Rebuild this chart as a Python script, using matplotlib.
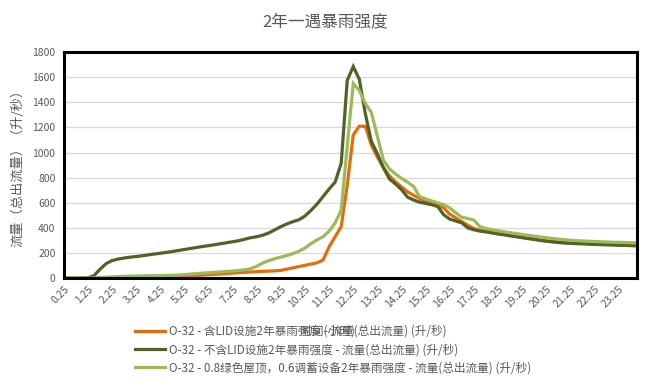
import numpy as np
import matplotlib
matplotlib.use("Agg")
import matplotlib.pyplot as plt

plt.rcParams['font.family'] = ['Noto Sans CJK SC', 'DejaVu Sans']

# time in hours, one point every 15 min
hours = np.arange(0.25, 24.01, 0.25)

# O-32 with LID (orange)
with_lid = [0, 0, 0, 0, 0, 0, 1, 2, 3, 4, 5, 6,
            7, 8, 9, 10, 11, 12, 13, 14, 16, 18, 21, 24,
            27, 30, 33, 36, 40, 43, 46, 49, 52, 54, 56, 58,
            62, 72, 82, 92, 102, 112, 122, 145, 250, 330, 410, 740,
            1140, 1210, 1210, 1060, 965, 880, 815, 767, 727, 688, 660, 634,
            610, 595, 580, 560, 510, 480, 450, 422, 395, 380, 372, 364,
            356, 348, 340, 333, 325, 318, 311, 303, 297, 292, 287, 283,
            280, 278, 276, 274, 272, 270, 268, 267, 265, 264, 262, 260]

# O-32 without LID (dark green)
no_lid = [0, 0, 0, 0, 2, 20, 70, 115, 140, 152, 160, 167,
          172, 178, 185, 192, 198, 205, 212, 220, 228, 236, 244, 252,
          259, 266, 274, 282, 290, 298, 310, 322, 330, 342, 360, 385,
          410, 432, 450, 465, 495, 540, 590, 650, 710, 765, 915, 1575,
          1685, 1585, 1310, 1090, 990, 880, 790, 750, 705, 645, 622, 605,
          595, 585, 570, 505, 470, 455, 440, 400, 385, 375, 368, 360,
          352, 345, 337, 330, 322, 315, 308, 300, 294, 289, 284, 280,
          277, 275, 273, 271, 269, 267, 265, 264, 262, 261, 259, 257]

# O-32 with 0.8 green roof + 0.6 storage (light green)
green_roof = [0, 0, 0, 0, 0, 2, 5, 8, 10, 12, 14, 16,
              17, 18, 19, 20, 21, 22, 23, 25, 28, 32, 36, 40,
              43, 46, 50, 53, 57, 61, 66, 75, 95, 120, 140, 155,
              168, 180, 195, 215, 240, 275, 305, 330, 375, 440, 540, 1050,
              1550, 1495, 1390, 1320, 1130, 940, 870, 830, 795, 765, 730, 650,
              632, 615, 600, 585, 560, 520, 485, 475, 462, 410, 395, 385,
              378, 370, 362, 355, 348, 342, 335, 328, 322, 316, 311, 306,
              302, 299, 296, 294, 292, 290, 288, 286, 285, 284, 282, 281]

series_names = ['O-32 - 含LID设施2年暴雨强度 - 流量(总出流量) (升/秒)',
                'O-32 - 不含LID设施2年暴雨强度 - 流量(总出流量) (升/秒)',
                'O-32 - 0.8绿色屋顶，0.6调蓄设备2年暴雨强度 - 流量(总出流量) (升/秒)']
colors = ['#E46C0A', '#4F6228', '#9BBB59']
tick_labels = ['%.2f' % h for h in hours[::4]]

gray = '#595959'
fig = plt.figure(figsize=(6.51, 3.89), dpi=100)
ax = fig.add_axes([0.098, 0.285, 0.88, 0.581])

idx = np.arange(len(hours))
for vals, name, c in zip([with_lid, no_lid, green_roof], series_names, colors):
    ax.plot(idx, vals, color=c, lw=2.3, label=name, solid_joinstyle='miter')

ax.set_xlim(0, len(hours) - 1)
ax.set_ylim(0, 1800)
ax.set_yticks(range(0, 1801, 200))
ax.set_xticks(idx[::4])
ax.set_xticklabels(tick_labels, rotation=45, ha='right', rotation_mode='anchor',
                   fontsize=7.5, color=gray)
ax.tick_params(axis='y', labelsize=7.5, labelcolor=gray, length=0, pad=6)
ax.tick_params(axis='x', length=0, pad=4)
ax.grid(axis='y', color='#d9d9d9', lw=0.9)
ax.set_axisbelow(True)
for s in ax.spines.values():
    s.set_color('black')
    s.set_linewidth(2.2)

ax.set_ylabel('流量（总出流量）（升/秒）', fontsize=9.5, color=gray, labelpad=6)
fig.text(0.5, 0.945, '2年一遇暴雨强度', ha='center', va='center', fontsize=12, color=gray)
# x label sits on top of the legend's first row, as in the source chart
fig.text(0.503, 0.148, '时间(小时)', ha='center', va='center', fontsize=8.5, color=gray)

ax.legend(loc='upper left', bbox_to_anchor=(0.198, 0.18), bbox_transform=fig.transFigure,
          frameon=False, fontsize=8.4, labelcolor=gray, handlelength=2.6,
          handletextpad=0.3, labelspacing=0.45, borderpad=0)

fig.savefig('out.png', dpi=100)
